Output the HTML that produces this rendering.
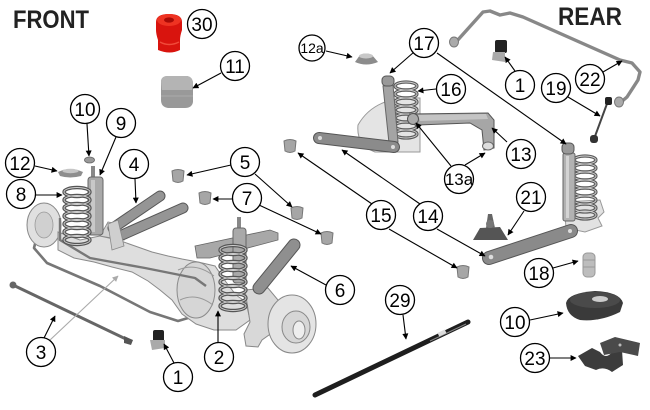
<!DOCTYPE html>
<html><head><meta charset="utf-8"><style>
html,body{margin:0;padding:0;background:#fff;width:650px;height:410px;overflow:hidden}
svg{display:block}
text{font-family:"Liberation Sans",Arial,sans-serif;}
</style></head><body>
<svg width="650" height="410" viewBox="0 0 650 410" xmlns="http://www.w3.org/2000/svg">
<defs>
<marker id="a" viewBox="0 0 10 10" refX="9" refY="5" markerWidth="7" markerHeight="6" orient="auto" markerUnits="userSpaceOnUse"><path d="M0,0 L10,5 L0,10 z" fill="#000"/></marker>
<marker id="g" viewBox="0 0 10 10" refX="9" refY="5" markerWidth="7" markerHeight="6" orient="auto" markerUnits="userSpaceOnUse"><path d="M0,0 L10,5 L0,10 z" fill="#aaa"/></marker>
</defs>
<rect width="650" height="410" fill="#fff"/>

<!-- Titles -->
<text x="13" y="28" font-size="25" font-weight="bold" fill="#222" textLength="76" lengthAdjust="spacingAndGlyphs">FRONT</text>
<text x="558" y="25" font-size="25" font-weight="bold" fill="#222" textLength="64" lengthAdjust="spacingAndGlyphs">REAR</text>

<!-- 30 red bushing -->
<path d="M156,22 Q156,14 169,14 Q182,14 182,22 L182,30 Q180,36 180,40 L180,50 Q170,55 158,50 L158,40 Q156,34 156,30 Z" fill="#d9140e"/>
<ellipse cx="169" cy="20" rx="12" ry="6" fill="#ee3322"/>
<ellipse cx="169" cy="20" rx="5" ry="2.6" fill="#a80a06"/>
<path d="M160,42 Q169,47 179,42" stroke="#f04a3a" stroke-width="1.5" fill="none"/>

<!-- 11 bump block -->
<path d="M161,82 Q161,76 168,76 L187,76 Q193,77 193,84 L193,102 Q192,108 185,108 L168,108 Q161,107 161,100 Z" fill="#999"/>
<path d="M161,82 Q161,76 168,76 L187,76 Q193,77 193,84 L192,90 L162,90 Z" fill="#b4b4b4"/>
<path d="M161,96 L193,96" stroke="#aaa" stroke-width="1"/>

<!-- 12a cone -->
<path d="M355,62 L360,55 Q366,52 372,55 L378,62 Q366,67 355,62 Z" fill="#8c8c8c"/>
<ellipse cx="366" cy="56" rx="7" ry="2.5" fill="#c8c8c8"/>

<!-- ===== FRONT AXLE ASSEMBLY ===== -->
<path d="M54,212 L48,224 L36,240 L34,248 L47,263 L100,286 L150,312 L178,321 L188,318 L200,305 L217,287" fill="none" stroke="#777" stroke-width="2.6" stroke-linejoin="round"/>
<ellipse cx="44" cy="225" rx="17" ry="22" fill="#e0e0e0" stroke="#888" stroke-width="1"/>
<ellipse cx="44" cy="225" rx="9" ry="13" fill="#d0d0d0" stroke="#999" stroke-width="0.8"/>
<path d="M58,232 L80,240 L100,236 L118,240 L135,246 L152,252 L168,256 L182,259 L198,262 L215,266 L226,282 L236,295 L246,302 L250,320 L236,330 L214,330 L196,324 L182,314 L172,300 L160,290 L148,281 L132,272 L112,267 L94,262 L74,258 L58,250 Z" fill="#dedede" stroke="#8a8a8a" stroke-width="1"/>
<path d="M100,236 L108,222 L118,224 L124,240 Z" fill="#d2d2d2" stroke="#888" stroke-width="0.8"/>
<ellipse cx="196" cy="290" rx="19" ry="28" fill="#d6d6d6" stroke="#8a8a8a" stroke-width="1"/>
<path d="M178,270 Q196,262 214,276" fill="none" stroke="#999" stroke-width="1"/>
<path d="M180,300 Q196,292 213,305" fill="none" stroke="#999" stroke-width="1"/>
<path d="M245,290 L268,288 L278,300 L276,330 L262,340 L258,347 L246,346 L244,334 L250,322 Z" fill="#d8d8d8" stroke="#888" stroke-width="1"/>
<ellipse cx="292" cy="324" rx="24" ry="29" fill="#e4e4e4" stroke="#888" stroke-width="1"/>
<ellipse cx="296" cy="327" rx="14" ry="16" fill="#d6d6d6" stroke="#888" stroke-width="1"/>
<ellipse cx="299" cy="330" rx="6" ry="9" fill="#eee" stroke="#888" stroke-width="1"/>
<path d="M60,218 L60,240 L90,258 L145,268 L195,278 L206,286" fill="none" stroke="#777" stroke-width="2.4" stroke-linejoin="round"/>
<path d="M195,246 L270,230 L278,233 L278,240 L210,258 L197,258 Z" fill="#a8a8a8" stroke="#666" stroke-width="0.8"/>
<line x1="113" y1="228" x2="160" y2="196" stroke="#555" stroke-width="11" stroke-linecap="round"/>
<line x1="113" y1="228" x2="160" y2="196" stroke="#959595" stroke-width="9" stroke-linecap="round"/>
<line x1="122" y1="235" x2="183" y2="208" stroke="#555" stroke-width="11" stroke-linecap="round"/>
<line x1="122" y1="235" x2="183" y2="208" stroke="#959595" stroke-width="9" stroke-linecap="round"/>
<path d="M108,224 L118,220 L124,246 L112,250 Z" fill="#cfcfcf" stroke="#888" stroke-width="0.8"/>
<rect x="91" y="166" width="4" height="14" fill="#888"/>
<rect x="88" y="177" width="15" height="58" rx="3" fill="#a9a9a9" stroke="#666" stroke-width="1"/>
<rect x="91" y="180" width="4" height="52" fill="#c8c8c8"/>
<g fill="none" stroke="#555" stroke-width="3.4">
<ellipse cx="77" cy="192" rx="13" ry="4.5"/>
<ellipse cx="77" cy="200" rx="13" ry="4.5"/>
<ellipse cx="77" cy="208" rx="13" ry="4.5"/>
<ellipse cx="77" cy="216" rx="13" ry="4.5"/>
<ellipse cx="77" cy="224" rx="13" ry="4.5"/>
<ellipse cx="77" cy="232" rx="13" ry="4.5"/>
<ellipse cx="77" cy="240" rx="13" ry="4.5"/>
</g>
<g fill="none" stroke="#cfcfcf" stroke-width="0.9">
<ellipse cx="77" cy="192" rx="13" ry="4.5"/>
<ellipse cx="77" cy="200" rx="13" ry="4.5"/>
<ellipse cx="77" cy="208" rx="13" ry="4.5"/>
<ellipse cx="77" cy="216" rx="13" ry="4.5"/>
<ellipse cx="77" cy="224" rx="13" ry="4.5"/>
<ellipse cx="77" cy="232" rx="13" ry="4.5"/>
<ellipse cx="77" cy="240" rx="13" ry="4.5"/>
</g>
<rect x="237" y="217" width="4" height="13" fill="#888"/>
<rect x="233" y="228" width="13" height="55" rx="3" fill="#a9a9a9" stroke="#666" stroke-width="1"/>
<g fill="none" stroke="#555" stroke-width="3.4">
<ellipse cx="233" cy="250" rx="13" ry="4.5"/>
<ellipse cx="233" cy="258" rx="13" ry="4.5"/>
<ellipse cx="233" cy="266" rx="13" ry="4.5"/>
<ellipse cx="233" cy="274" rx="13" ry="4.5"/>
<ellipse cx="233" cy="282" rx="13" ry="4.5"/>
<ellipse cx="233" cy="290" rx="13" ry="4.5"/>
<ellipse cx="233" cy="298" rx="13" ry="4.5"/>
<ellipse cx="233" cy="306" rx="13" ry="4.5"/>
</g>
<g fill="none" stroke="#cfcfcf" stroke-width="0.9">
<ellipse cx="233" cy="250" rx="13" ry="4.5"/>
<ellipse cx="233" cy="258" rx="13" ry="4.5"/>
<ellipse cx="233" cy="266" rx="13" ry="4.5"/>
<ellipse cx="233" cy="274" rx="13" ry="4.5"/>
<ellipse cx="233" cy="282" rx="13" ry="4.5"/>
<ellipse cx="233" cy="290" rx="13" ry="4.5"/>
<ellipse cx="233" cy="298" rx="13" ry="4.5"/>
<ellipse cx="233" cy="306" rx="13" ry="4.5"/>
</g>
<line x1="294" y1="245" x2="259" y2="288" stroke="#555" stroke-width="13" stroke-linecap="round"/>
<line x1="294" y1="245" x2="259" y2="288" stroke="#8f8f8f" stroke-width="11" stroke-linecap="round"/>
<line x1="13" y1="285" x2="128" y2="340" stroke="#666" stroke-width="3"/>
<circle cx="13" cy="285" r="3.5" fill="#666"/>
<path d="M124,336 L133,340 L131,345 L124,343 Z" fill="#555"/>

<g fill="#a6a6a6" stroke="#777" stroke-width="1">
<path d="M172,171 Q178,168 184,171 L183,181 Q178,184 173,181 Z"/>
<path d="M291,208 Q297,205 303,208 L302,218 Q297,221 292,218 Z"/>
<path d="M199,193 Q205,190 211,193 L210,203 Q205,206 200,203 Z"/>
<path d="M321,233 Q327,230 333,233 L332,243 Q327,246 322,243 Z"/>
<path d="M284,141 Q290,138 296,141 L295,151 Q290,154 285,151 Z"/>
<path d="M457,267 Q463,264 469,267 L468,277 Q463,280 458,277 Z"/>
</g>

<ellipse cx="89.5" cy="160" rx="5" ry="3" fill="#999" stroke="#666" stroke-width="0.8"/>
<path d="M58,172 Q70,166 83,172 L81,176 Q70,179 60,176 Z" fill="#8e8e8e"/>
<ellipse cx="70.5" cy="171" rx="8" ry="2.2" fill="#c6c6c6"/>

<rect x="153" y="330" width="11" height="12" rx="2" fill="#222"/>
<path d="M150,340 L165,340 L165,348 L152,350 Z" fill="#aaa"/>

<!-- ===== REAR ===== -->
<path d="M456,42 L483,12 L490,11 L500,15 L510,13 L523,17 L620,60 L632,63 L640,72 L638,80 L627,97 L620,103" fill="none" stroke="#888" stroke-width="3.4" stroke-linejoin="round"/>
<ellipse cx="454" cy="42" rx="4.5" ry="5" fill="#aaa" stroke="#777" stroke-width="1"/>
<ellipse cx="619" cy="102" rx="4.5" ry="5" fill="#aaa" stroke="#777" stroke-width="1"/>
<rect x="495" y="40" width="12" height="13" rx="2" fill="#222"/>
<path d="M493,52 L505,52 L505,62 L492,60 Z" fill="#aaa"/>
<line x1="608" y1="101" x2="594" y2="139" stroke="#444" stroke-width="2"/>
<rect x="605" y="97" width="7" height="8" rx="2" fill="#222"/>
<rect x="590" y="135" width="8" height="8" rx="3" fill="#333"/>

<path d="M420,98 Q375,95 358,125 Q356,145 375,152 L420,152 Z" fill="#e4e4e4" stroke="#999" stroke-width="1"/>
<g fill="none" stroke="#5a5a5a" stroke-width="3.2">
<ellipse cx="406" cy="86" rx="11" ry="4"/>
<ellipse cx="406" cy="94" rx="11" ry="4"/>
<ellipse cx="406" cy="102" rx="11" ry="4"/>
<ellipse cx="406" cy="110" rx="11" ry="4"/>
<ellipse cx="406" cy="118" rx="11" ry="4"/>
<ellipse cx="406" cy="126" rx="11" ry="4"/>
<ellipse cx="406" cy="134" rx="11" ry="4"/>
</g>
<g fill="none" stroke="#d0d0d0" stroke-width="0.9">
<ellipse cx="406" cy="86" rx="11" ry="4"/>
<ellipse cx="406" cy="94" rx="11" ry="4"/>
<ellipse cx="406" cy="102" rx="11" ry="4"/>
<ellipse cx="406" cy="110" rx="11" ry="4"/>
<ellipse cx="406" cy="118" rx="11" ry="4"/>
<ellipse cx="406" cy="126" rx="11" ry="4"/>
<ellipse cx="406" cy="134" rx="11" ry="4"/>
</g>
<path d="M383,86 L393,85 L398,142 L389,143 Z" fill="#a4a4a4" stroke="#666" stroke-width="1"/>
<rect x="382" y="76" width="12" height="10" rx="4" fill="#999" stroke="#555" stroke-width="1"/>
<path d="M410,114 L488,113 L494,120 L494,148 L484,150 L482,130 L470,123 L418,125 Z" fill="#a6a6a6" stroke="#555" stroke-width="1"/>
<path d="M418,115 L486,114 L488,119 L420,121 Z" fill="#c4c4c4"/>
<circle cx="413" cy="119" r="5.5" fill="#aaa" stroke="#555" stroke-width="1"/>
<ellipse cx="488" cy="146" rx="5.5" ry="4" fill="#ddd" stroke="#666" stroke-width="1"/>
<line x1="319" y1="138" x2="394" y2="147" stroke="#555" stroke-width="12" stroke-linecap="round"/>
<line x1="319" y1="138" x2="394" y2="147" stroke="#8b8b8b" stroke-width="10" stroke-linecap="round"/>
<circle cx="320" cy="138" r="2" fill="#ddd"/>
<circle cx="393" cy="147" r="2" fill="#ddd"/>

<path d="M564,202 L600,200 L604,212 L598,218 L602,226 L585,232 L566,228 Z" fill="#e2e2e2" stroke="#999" stroke-width="1"/>
<g fill="none" stroke="#5a5a5a" stroke-width="3.2">
<ellipse cx="585" cy="160" rx="11" ry="4"/>
<ellipse cx="585" cy="168" rx="11" ry="4"/>
<ellipse cx="585" cy="176" rx="11" ry="4"/>
<ellipse cx="585" cy="184" rx="11" ry="4"/>
<ellipse cx="585" cy="192" rx="11" ry="4"/>
<ellipse cx="585" cy="200" rx="11" ry="4"/>
<ellipse cx="585" cy="208" rx="11" ry="4"/>
<ellipse cx="585" cy="215" rx="11" ry="4"/>
</g>
<g fill="none" stroke="#d0d0d0" stroke-width="0.9">
<ellipse cx="585" cy="160" rx="11" ry="4"/>
<ellipse cx="585" cy="168" rx="11" ry="4"/>
<ellipse cx="585" cy="176" rx="11" ry="4"/>
<ellipse cx="585" cy="184" rx="11" ry="4"/>
<ellipse cx="585" cy="192" rx="11" ry="4"/>
<ellipse cx="585" cy="200" rx="11" ry="4"/>
<ellipse cx="585" cy="208" rx="11" ry="4"/>
<ellipse cx="585" cy="215" rx="11" ry="4"/>
</g>
<rect x="563" y="153" width="12" height="68" rx="2" fill="#b2b2b2" stroke="#666" stroke-width="1"/>
<rect x="566" y="156" width="3" height="62" fill="#d4d4d4"/>
<rect x="562" y="143" width="12" height="11" rx="4" fill="#999" stroke="#555" stroke-width="1"/>
<line x1="489" y1="258" x2="571" y2="231" stroke="#555" stroke-width="14" stroke-linecap="round"/>
<line x1="489" y1="258" x2="571" y2="231" stroke="#8a8a8a" stroke-width="12" stroke-linecap="round"/>
<circle cx="491" cy="257" r="2.3" fill="#ddd"/>
<circle cx="570" cy="231" r="2" fill="#ddd"/>
<path d="M473,240 L480,228 L500,227 L508,240 Z" fill="#555"/>
<path d="M486,228 L488,214 L492,214 L495,228 Z" fill="#666"/>
<circle cx="490" cy="224" r="4" fill="#777"/>
<rect x="583" y="253" width="12" height="24" rx="4" fill="#bdbdbd" stroke="#999" stroke-width="1"/>
<line x1="583" y1="260" x2="595" y2="260" stroke="#999"/>
<line x1="583" y1="267" x2="595" y2="267" stroke="#999"/>
<path d="M566,303 Q568,293 595,291 Q620,292 623,303 L620,312 Q600,322 580,320 Q567,316 566,303 Z" fill="#3a3a3a"/>
<ellipse cx="595" cy="300" rx="25" ry="8" fill="#4a4a4a"/>
<ellipse cx="600" cy="299" rx="8" ry="3" fill="#ccc"/>
<path d="M578,356 L592,348 L600,352 Q606,360 612,352 L622,350 L623,365 L612,372 Q604,366 596,370 L585,366 Z" fill="#3c3c3c"/>
<path d="M600,343 L615,337 L640,343 L638,356 L620,352 L604,355 Z" fill="#4a4a4a"/>
<circle cx="620" cy="345" r="1.5" fill="#bbb"/>

<line x1="315" y1="395" x2="468" y2="322" stroke="#1e1e1e" stroke-width="5" stroke-linecap="round"/>
<line x1="430" y1="341" x2="466" y2="324" stroke="#888" stroke-width="1"/>
<rect x="438" y="331" width="8" height="4" fill="#ddd" transform="rotate(-25 442 333)"/>

<!-- ===== ARROWS ===== -->
<g stroke="#000" stroke-width="1.1" fill="none" marker-end="url(#a)">
<line x1="221" y1="73" x2="193" y2="88"/>
<line x1="326" y1="51" x2="352" y2="57"/>
<line x1="87" y1="124" x2="89" y2="156"/>
<line x1="116" y1="137" x2="100" y2="175"/>
<line x1="35" y1="166" x2="57" y2="171"/>
<line x1="36" y1="195" x2="62" y2="195"/>
<line x1="135" y1="179" x2="136" y2="203"/>
<line x1="231" y1="165" x2="187" y2="175"/>
<line x1="255" y1="174" x2="292" y2="207"/>
<line x1="232" y1="199" x2="213" y2="199"/>
<line x1="259" y1="205" x2="321" y2="234"/>
<line x1="326" y1="285" x2="291" y2="266"/>
<line x1="44" y1="338" x2="55" y2="316"/>
<line x1="174" y1="363" x2="164" y2="344"/>
<line x1="218" y1="343" x2="218" y2="311"/>
<line x1="414" y1="52" x2="390" y2="73"/>
<line x1="437" y1="53" x2="566" y2="144"/>
<line x1="436" y1="89" x2="418" y2="91"/>
<line x1="507" y1="142" x2="492" y2="128"/>
<line x1="451" y1="166" x2="416" y2="123"/>
<line x1="465" y1="165" x2="485" y2="153"/>
<line x1="515" y1="71" x2="505" y2="57"/>
<line x1="568" y1="97" x2="600" y2="116"/>
<line x1="603" y1="72" x2="622" y2="61"/>
<line x1="372" y1="204" x2="298" y2="153"/>
<line x1="389" y1="229" x2="457" y2="268"/>
<line x1="420" y1="204" x2="342" y2="150"/>
<line x1="437" y1="229" x2="485" y2="256"/>
<line x1="524" y1="211" x2="508" y2="235"/>
<line x1="553" y1="268" x2="578" y2="261"/>
<line x1="530" y1="320" x2="563" y2="313"/>
<line x1="550" y1="358" x2="576" y2="358"/>
<line x1="403" y1="315" x2="406" y2="339"/>
</g>
<line x1="50" y1="340" x2="118" y2="276" stroke="#aaa" stroke-width="1.1" marker-end="url(#g)"/>

<!-- ===== LABEL CIRCLES ===== -->
<g fill="#fff" stroke="#000" stroke-width="1.3">
<circle cx="202" cy="24" r="14.5"/>
<circle cx="235" cy="66" r="14.5"/>
<circle cx="312" cy="48" r="13"/>
<circle cx="85" cy="109" r="14.5"/>
<circle cx="121" cy="123" r="14.5"/>
<circle cx="20" cy="163" r="14.5"/>
<circle cx="134" cy="164" r="14.5"/>
<circle cx="245" cy="162" r="14.5"/>
<circle cx="21" cy="194" r="14.5"/>
<circle cx="247" cy="198" r="14.5"/>
<circle cx="340" cy="290" r="14.5"/>
<circle cx="41" cy="352" r="14.5"/>
<circle cx="178" cy="377" r="14.5"/>
<circle cx="219" cy="357" r="14.5"/>
<circle cx="424" cy="43" r="14.5"/>
<circle cx="451" cy="89" r="14.5"/>
<circle cx="521" cy="154" r="14.5"/>
<circle cx="459" cy="179" r="14.5"/>
<circle cx="520" cy="85" r="14.5"/>
<circle cx="556" cy="88" r="14.5"/>
<circle cx="590" cy="79" r="14.5"/>
<circle cx="531" cy="197" r="14.5"/>
<circle cx="381" cy="215" r="14.5"/>
<circle cx="428" cy="216" r="14.5"/>
<circle cx="539" cy="273" r="14.5"/>
<circle cx="400" cy="300" r="14.5"/>
<circle cx="515" cy="322" r="14.5"/>
<circle cx="535" cy="358" r="14.5"/>
</g>
<g font-size="19" fill="#000" text-anchor="middle">
<text x="202" y="31">30</text>
<text x="235" y="73">11</text>
<text x="312" y="53" font-size="14">12a</text>
<text x="85" y="116">10</text>
<text x="121" y="130">9</text>
<text x="20" y="170">12</text>
<text x="134" y="171">4</text>
<text x="245" y="169">5</text>
<text x="21" y="201">8</text>
<text x="247" y="205">7</text>
<text x="340" y="297">6</text>
<text x="41" y="359">3</text>
<text x="178" y="384">1</text>
<text x="219" y="364">2</text>
<text x="424" y="50">17</text>
<text x="451" y="96">16</text>
<text x="521" y="161">13</text>
<text x="459" y="185" font-size="17">13a</text>
<text x="520" y="92">1</text>
<text x="556" y="95">19</text>
<text x="590" y="86">22</text>
<text x="531" y="204">21</text>
<text x="381" y="222">15</text>
<text x="428" y="223">14</text>
<text x="539" y="280">18</text>
<text x="400" y="307">29</text>
<text x="515" y="329">10</text>
<text x="535" y="365">23</text>
</g>
</svg>
</body></html>
